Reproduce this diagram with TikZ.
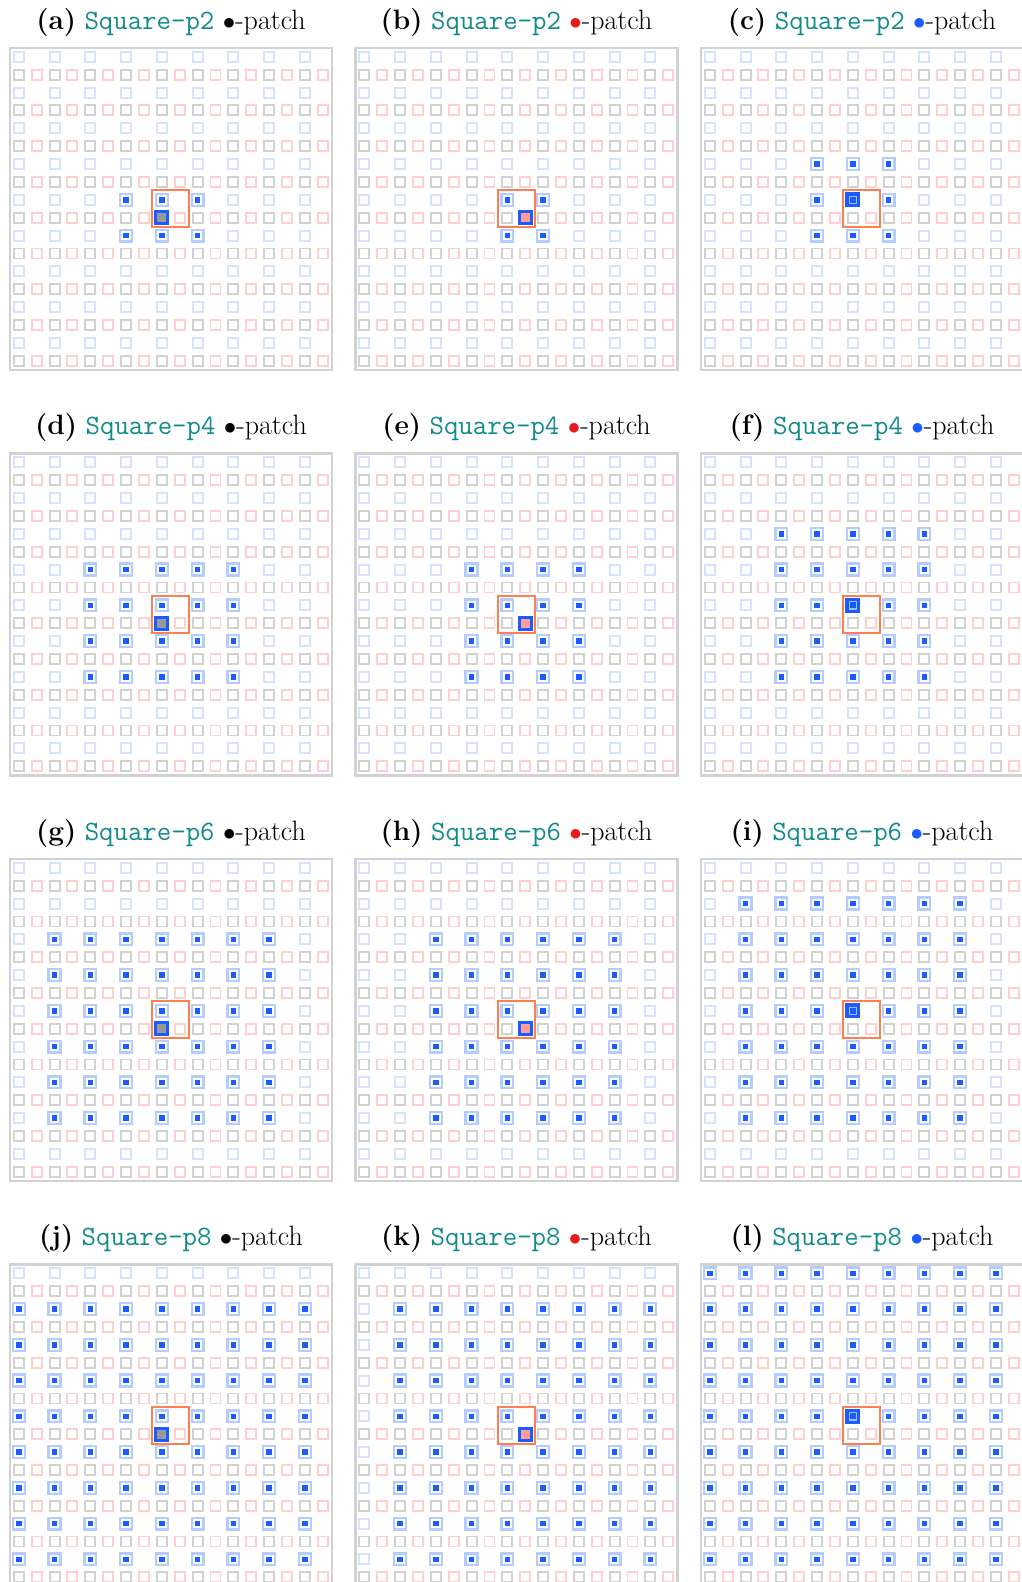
\documentclass[tikz,border=0pt]{standalone}
\usepackage{fontspec}
\definecolor{tealtt}{HTML}{108A8A}
\definecolor{cellblue}{HTML}{D6E3FF}
\definecolor{cellgray}{HTML}{D2D2D2}
\definecolor{cellred}{HTML}{FFD0D0}
\definecolor{hiblue}{HTML}{B4CCFF}
\definecolor{dotblue}{HTML}{1A5CFF}
\definecolor{innerblue}{HTML}{A0BCFF}
\definecolor{boxorange}{HTML}{FF7F50}
\definecolor{framegray}{HTML}{D2D2D2}
\definecolor{centergray}{HTML}{999999}
\definecolor{centerred}{HTML}{FF9C9C}
\definecolor{bulletred}{HTML}{EA1A1A}
\tikzset{
 cellB/.style={draw=cellblue,line width=1.9pt},
 cellG/.style={draw=cellgray,line width=1.9pt},
 cellR/.style={draw=cellred,line width=1.9pt},
 nbr/.style={draw=hiblue,fill=white,line width=2.4pt},
 nbrdot/.style={fill=dotblue},
 ctr/.style={draw=dotblue,line width=3pt},
 ctrinner/.style={draw=innerblue,line width=1.4pt},
 patchbox/.style={draw=boxorange,line width=2pt},
 panelframe/.style={draw=framegray,line width=2.4pt},
 ttl/.style={anchor=base,inner sep=0pt,font=\fontsize{28}{32}\selectfont},
}
\begin{document}
\begin{tikzpicture}[x=1pt,y=-1pt]
\useasboundingbox (0,0) rectangle (1022,1582);
\clip (0,0) rectangle (1022,1582);
\foreach \pr in {0,1,2,3}{
 \foreach \pc in {0,1,2}{
  \pgfmathsetmacro\X{10+345.5*\pc}
  \pgfmathsetmacro\Y{48+405.5*\pr}
  \pgfmathtruncatemacro\P{2*(\pr+1)}
  \pgfmathtruncatemacro\idx{3*\pr+\pc+1}
  % title
  \node[ttl] (t\idx) at ({\X+161},{\Y-18.7})
   {\textbf{(\ifcase\idx\or a\or b\or c\or d\or e\or f\or g\or h\or i\or j\or k\or l\fi)}
    {\ttfamily\color{tealtt}Square-p\P}
    \textcolor{\ifcase\pc black\or bulletred\or dotblue\fi}{$\bullet$}-patch};
  \begin{scope}[shift={(\X,\Y)}]
   \draw[panelframe] (0,0) rectangle (322,322);
   \foreach \r in {0,2,...,16}{
    \foreach \c in {0,2,...,16}{
     \draw[cellB] ({8.8+17.88*\c-5},{8.8+17.88*\r-5}) rectangle ++(10,10);
    }
   }
   \foreach \r in {1,3,...,17}{
    \foreach \c in {0,2,...,16}{
     \draw[cellG] ({8.8+17.88*\c-5},{8.8+17.88*\r-5}) rectangle ++(10,10);
    }
    \foreach \c in {1,3,...,17}{
     \draw[cellR] ({8.8+17.88*\c-5},{8.8+17.88*\r-5}) rectangle ++(10,10);
    }
   }
   % neighbours
   \pgfmathtruncatemacro\cmin{\pc==1 ? 10-\P : 8-\P}
   \pgfmathtruncatemacro\rmin{\pc==2 ? 8-\P : 10-\P}
   \pgfmathtruncatemacro\cminn{\cmin+2}
   \pgfmathtruncatemacro\rminn{\rmin+2}
   \pgfmathtruncatemacro\mx{8+\P}
   \foreach \r in {\rmin,\rminn,...,\mx}{
    \foreach \c in {\cmin,\cminn,...,\mx}{
     \draw[nbr] ({8.8+17.88*\c-5.9},{8.8+17.88*\r-5.9}) rectangle ++(11.8,11.8);
     \fill[nbrdot] ({8.8+17.88*\c-2.7},{8.8+17.88*\r-2.7}) rectangle ++(5.4,5.4);
    }
   }
   % centre
   \ifcase\pc
    \draw[ctr,fill=centergray] ({8.8+17.88*8-6},{8.8+17.88*9-6}) rectangle ++(12,12);
   \or
    \draw[ctr,fill=centerred] ({8.8+17.88*9-6},{8.8+17.88*9-6}) rectangle ++(12,12);
   \or
    \fill[dotblue] ({8.8+17.88*8-7.4},{8.8+17.88*8-7.4}) rectangle ++(14.8,14.8);
    \draw[ctrinner] ({8.8+17.88*8-3.6},{8.8+17.88*8-3.6}) rectangle ++(7.2,7.2);
   \fi
   % patch box
   \draw[patchbox] ({8.8+17.88*8-9.4},{8.8+17.88*8-9.4}) rectangle ({8.8+17.88*9+9.4},{8.8+17.88*9+9.4});
  \end{scope}
 }
}
\end{tikzpicture}
\end{document}
